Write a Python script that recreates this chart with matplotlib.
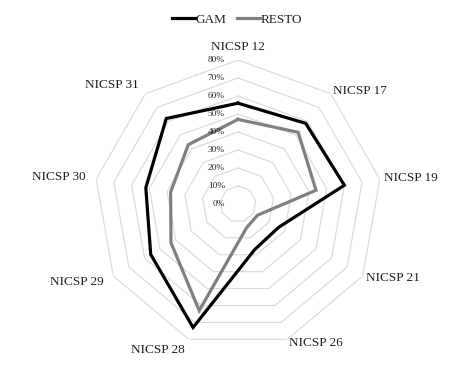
import numpy as np
import matplotlib
matplotlib.use("Agg")
import matplotlib.pyplot as plt
from matplotlib.transforms import offset_copy

categories = ["NICSP 12", "NICSP 17", "NICSP 19", "NICSP 21", "NICSP 26",
              "NICSP 28", "NICSP 29", "NICSP 30", "NICSP 31"]
gam = [56, 58.5, 60, 26, 27, 73, 56, 52, 62]
resto = [47, 52, 44, 12.5, 14, 63, 43, 38, 43]
ticks = [0, 10, 20, 30, 40, 50, 60, 70, 80]
tick_labels = [f"{t}%" for t in ticks]

plt.rcParams['font.family'] = ['Liberation Serif', 'DejaVu Serif']

W, H = 474, 372
fig = plt.figure(figsize=(W / 100, H / 100), dpi=100)
cx, cy, R = 238, 204, 144
ax = fig.add_axes([(cx - R) / W, (H - cy - R) / H, 2 * R / W, 2 * R / H], projection='polar')
ax.set_theta_zero_location('N')
ax.set_theta_direction(-1)
ax.set_ylim(0, 80)
ax.grid(False)
ax.spines['polar'].set_visible(False)
ax.set_xticks([])
ax.set_yticks([])
ax.patch.set_alpha(0)

n = len(categories)
theta = np.arange(n) * 2 * np.pi / n
theta_c = np.append(theta, theta[0])

# polygon gridlines
for t in ticks[1:]:
    ax.plot(theta_c, [t] * (n + 1), color='#d9d9d9', lw=0.8, zorder=1)

ax.plot(theta_c, resto + resto[:1], color='#808080', lw=2.3, zorder=3,
        label='RESTO', solid_joinstyle='miter')
ax.plot(theta_c, gam + gam[:1], color='black', lw=2.3, zorder=4,
        label='GAM', solid_joinstyle='miter')

# tick labels
tr = offset_copy(ax.transData, fig=fig, x=-9.4, y=0, units='points')
for t, lab in zip(ticks, tick_labels):
    ax.text(0, t, lab, transform=tr, ha='right', va='center',
            fontsize=6.7, color='#2a2a3a', zorder=5)

# category labels
px_per_unit = R / 80.0
for th, lab in zip(theta, categories):
    s = np.sin(th)
    if abs(s) < 0.1:
        ha, r = 'center', 157 / px_per_unit
    elif s > 0:
        ha, r = 'left', 148 / px_per_unit
    else:
        ha, r = 'right', 155 / px_per_unit
    ax.text(th, r, lab, ha=ha, va='center', fontsize=9.5, color='#1e1e2a',
            clip_on=False)

handles, labels = ax.get_legend_handles_labels()
order = [1, 0]
fig.legend([handles[i] for i in order], [labels[i] for i in order],
           loc='center', bbox_to_anchor=(0.5, 1 - 20 / H), ncol=2,
           frameon=False, fontsize=9.5, handlelength=1.75, handletextpad=0.05,
           columnspacing=0.8, labelcolor='#1e1e2a')

fig.savefig('out.png', dpi=100, facecolor='white')
